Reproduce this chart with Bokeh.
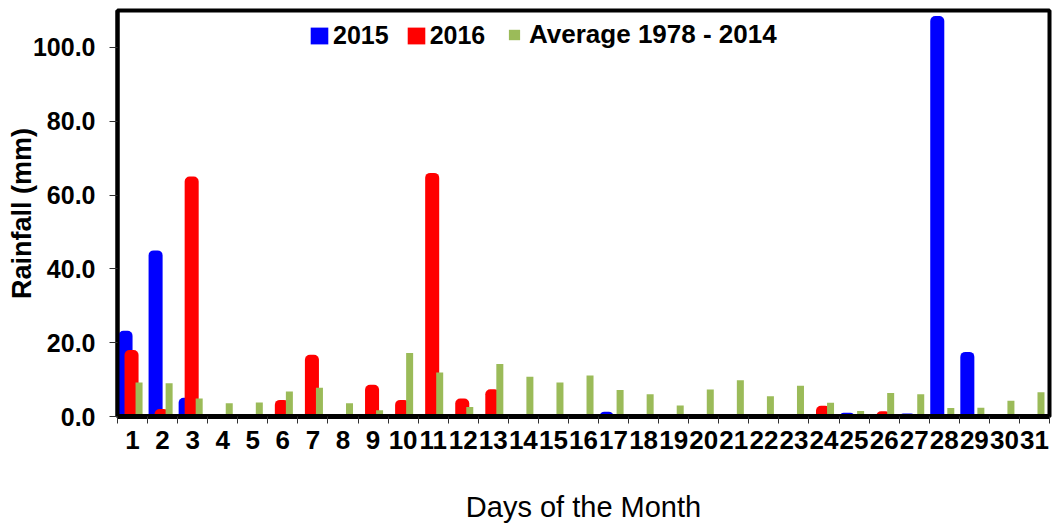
from bokeh.plotting import figure
from bokeh.models import (Range1d, FixedTicker, NumeralTickFormatter, Legend,
                          LegendItem, ColumnDataSource)
from bokeh.transform import dodge
from bokeh.embed import file_html
from bokeh.resources import INLINE

# ---- data ----
days = list(range(1, 32))
rain_2015 = [23.2, 45.0, 5.1, 0, 0, 0, 0, 0, 0, 0, 0, 0, 0, 0, 0, 0,
             1.3, 0, 0, 0, 0, 0, 0, 0, 1.0, 0, 0.8, 108.5, 17.5, 0, 0]
rain_2016 = [18.0, 2.0, 65.0, 0, 0, 4.5, 16.7, 0, 8.6, 4.5, 66.0, 4.9, 7.4,
             0, 0, 0, 0, 0, 0, 0, 0, 0, 0, 2.9, 0, 1.4, 0, 0, 0, 0, 0]
rain_avg = [9.2, 9.0, 4.9, 3.6, 3.8, 6.8, 7.8, 3.6, 1.7, 17.2, 11.9, 2.6,
            14.2, 10.8, 9.2, 11.1, 7.2, 6.0, 3.0, 7.3, 9.8, 5.5, 8.3, 3.7,
            1.5, 6.4, 6.0, 2.3, 2.4, 4.3, 6.6]
y_ticks = [0, 20, 40, 60, 80, 100]
series_labels = ["2015", "2016", "Average 1978 - 2014"]

source = ColumnDataSource(dict(day=days, r2015=rain_2015, r2016=rain_2016, ravg=rain_avg))

FONT = "Liberation Sans"

p = figure(width=1052, height=526, output_backend="svg", toolbar_location=None,
           x_range=Range1d(0.5, 31.5), y_range=Range1d(0, 110),
           min_border_left=117, min_border_right=3, min_border_top=10,
           min_border_bottom=110)

p.xgrid.visible = False
p.ygrid.visible = False
p.outline_line_color = "black"
p.outline_line_width = 4

b15 = p.vbar(x=dodge("day", -0.233, range=p.x_range), top="r2015", bottom=0,
             width=0.467, source=source, fill_color="#0000FF", line_color=None,
             border_radius=(5, 5, 0, 0))
b16 = p.vbar(x=dodge("day", -0.033, range=p.x_range), top="r2016", bottom=0,
             width=0.467, source=source, fill_color="#FF0000", line_color=None,
             border_radius=(5, 5, 0, 0))
bav = p.vbar(x=dodge("day", 0.217, range=p.x_range), top="ravg", bottom=0,
             width=0.233, source=source, fill_color="#9BBB59", line_color=None)

# inner marks of the legend swatches
in15 = p.scatter(x=[], y=[], marker="square", fill_color="#6A86D8", line_color=None)
in16 = p.scatter(x=[], y=[], marker="square", fill_color="#C8646A", line_color=None)

# ---- axes ----
xa = p.xaxis[0]
xa.ticker = FixedTicker(ticks=days, minor_ticks=[d - 0.5 for d in days] + [31.5])
xa.axis_line_width = 5
xa.axis_line_color = "black"
xa.major_tick_line_color = None
xa.major_tick_out = 0
xa.major_tick_in = 0
xa.minor_tick_line_color = "#303030"
xa.minor_tick_out = 7
xa.minor_tick_in = 0
xa.major_label_text_font = FONT
xa.major_label_text_font_style = "bold"
xa.major_label_text_font_size = "26px"
xa.major_label_text_color = "black"
xa.major_label_standoff = 7
xa.axis_label = "Days of the Month"
xa.axis_label_text_font = FONT
xa.axis_label_text_font_style = "normal"
xa.axis_label_text_font_size = "29px"
xa.axis_label_text_color = "black"
xa.axis_label_standoff = 39

ya = p.yaxis[0]
ya.ticker = FixedTicker(ticks=y_ticks, minor_ticks=[])
ya.formatter = NumeralTickFormatter(format="0.0")
ya.axis_line_width = 4
ya.axis_line_color = "black"
ya.major_tick_line_color = "#303030"
ya.major_tick_out = 8
ya.major_tick_in = 0
ya.minor_tick_line_color = None
ya.major_label_text_font = FONT
ya.major_label_text_font_style = "bold"
ya.major_label_text_font_size = "25px"
ya.major_label_text_color = "black"
ya.major_label_standoff = 14
ya.axis_label = "Rainfall (mm)"
ya.axis_label_text_font = FONT
ya.axis_label_text_font_style = "bold"
ya.axis_label_text_font_size = "27px"
ya.axis_label_text_color = "black"
ya.axis_label_standoff = -7

# ---- legends ----
leg1 = Legend(items=[LegendItem(label=series_labels[0], renderers=[b15, in15]),
                     LegendItem(label=series_labels[1], renderers=[b16, in16])],
              orientation="horizontal", location=(191, 366),
              glyph_width=22, glyph_height=21, label_standoff=3, spacing=16,
              padding=0, margin=0, border_line_color=None, background_fill_alpha=0,
              label_text_font=FONT, label_text_font_style="bold",
              label_text_font_size="25px", label_text_color="black")
leg2 = Legend(items=[LegendItem(label=series_labels[2], renderers=[bav])],
              orientation="horizontal", location=(390, 366),
              glyph_width=14, glyph_height=13, label_standoff=8,
              padding=0, margin=0, border_line_color=None, background_fill_alpha=0,
              label_text_font=FONT, label_text_font_style="bold",
              label_text_font_size="26px", label_text_color="black")
p.add_layout(leg1, "center")
p.add_layout(leg2, "center")

open("out.html", "w").write(file_html(p, INLINE))
